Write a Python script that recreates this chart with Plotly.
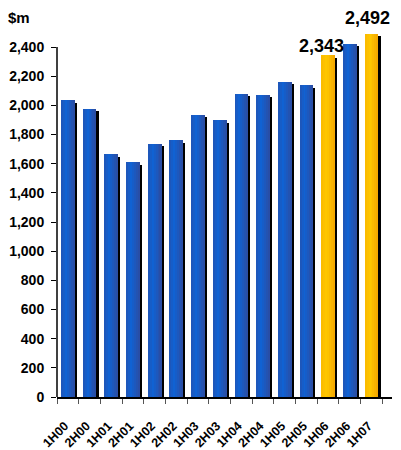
import plotly.graph_objects as go

# Half-yearly values ($m)
periods = ["1H00", "2H00", "1H01", "2H01", "1H02", "2H02", "1H03", "2H03",
           "1H04", "2H04", "1H05", "2H05", "1H06", "2H06", "1H07"]
values = [2034, 1975, 1665, 1610, 1735, 1760, 1933, 1898,
          2077, 2070, 2160, 2138, 2343, 2421, 2492]
highlight = ["1H06", "1H07"]
labelled = {"1H06": "2,343", "1H07": "2,492"}

BAR_W = 0.63
N_STRIPS = 7
SHADOW_DX = 0.1
SHADOW_DY = 16

blue_stops = [(0.0, (32, 84, 180)), (0.35, (16, 98, 212)), (1.0, (44, 76, 160))]
gold_stops = [(0.0, (250, 185, 0)), (0.4, (255, 200, 0)), (1.0, (242, 165, 0))]


def lerp_color(stops, t):
    for (t0, c0), (t1, c1) in zip(stops, stops[1:]):
        if t0 <= t <= t1:
            f = (t - t0) / (t1 - t0) if t1 > t0 else 0
            c = [round(a + (b - a) * f) for a, b in zip(c0, c1)]
            return f"rgb({c[0]},{c[1]},{c[2]})"
    c = stops[-1][1]
    return f"rgb({c[0]},{c[1]},{c[2]})"


fig = go.Figure()

# Drop shadow behind every bar
fig.add_trace(go.Bar(
    x=periods, y=values, base=-SHADOW_DY,
    width=BAR_W, offset=-BAR_W / 2 + SHADOW_DX,
    marker=dict(color="black", line=dict(width=0)),
    hoverinfo="skip", showlegend=False,
))

# Bars drawn as vertical strips to give a shaded finish
strip_w = BAR_W / N_STRIPS
for i in range(N_STRIPS):
    t = (i + 0.5) / N_STRIPS
    cols = [lerp_color(gold_stops if p in highlight else blue_stops, t) for p in periods]
    fig.add_trace(go.Bar(
        x=periods, y=values,
        width=strip_w * 1.05, offset=-BAR_W / 2 + i * strip_w,
        marker=dict(color=cols, line=dict(width=0)),
        showlegend=False,
    ))

for p, txt in labelled.items():
    v = values[periods.index(p)]
    fig.add_annotation(
        x=p, y=v, text=f"<b>{txt}</b>", showarrow=False,
        xanchor="center", yanchor="bottom",
        xshift=-7 if p == "1H06" else -4,
        yshift=-3 if p == "1H06" else 4,
        font=dict(family="Liberation Sans, Arial, sans-serif", size=18, color="black"),
    )

# Value axis line stops at the top tick
fig.add_shape(type="line", xref="paper", yref="y", x0=0, x1=0, y0=0, y1=2400,
              line=dict(color="black", width=1.5))

fig.update_layout(
    width=401, height=450,
    margin=dict(l=57, r=9, t=32, b=53),
    paper_bgcolor="white", plot_bgcolor="white",
    barmode="overlay", bargap=0,
    title=dict(text="<b>$m</b>", xref="container", yref="container",
               x=8 / 401, xanchor="left", y=1 - 17.5 / 450, yanchor="middle",
               font=dict(family="Liberation Sans, Arial, sans-serif", size=15, color="black")),
    font=dict(family="Liberation Sans, Arial, sans-serif", color="black"),
)
fig.update_xaxes(
    type="category", categoryorder="array", categoryarray=periods,
    showline=True, linecolor="black", linewidth=1.5,
    ticks="outside", tickson="boundaries", ticklen=5, tickcolor="#555",
    tickangle=-45, ticklabelshift=-3, ticklabelstandoff=15,
    tickfont=dict(size=12.5, family="Liberation Sans, Arial, sans-serif", weight="bold"),
    showgrid=False, zeroline=False, automargin=False,
)
fig.update_yaxes(
    range=[0, 2502.9], tickvals=list(range(0, 2401, 200)),
    tickformat=",d", ticks="outside", ticklen=5, tickcolor="black",
    tickfont=dict(size=14, family="Liberation Sans, Arial, sans-serif", weight="bold"),
    ticklabelstandoff=4, automargin=False,
    showline=False, showgrid=False, zeroline=False,
)

fig.write_html("out.html")
